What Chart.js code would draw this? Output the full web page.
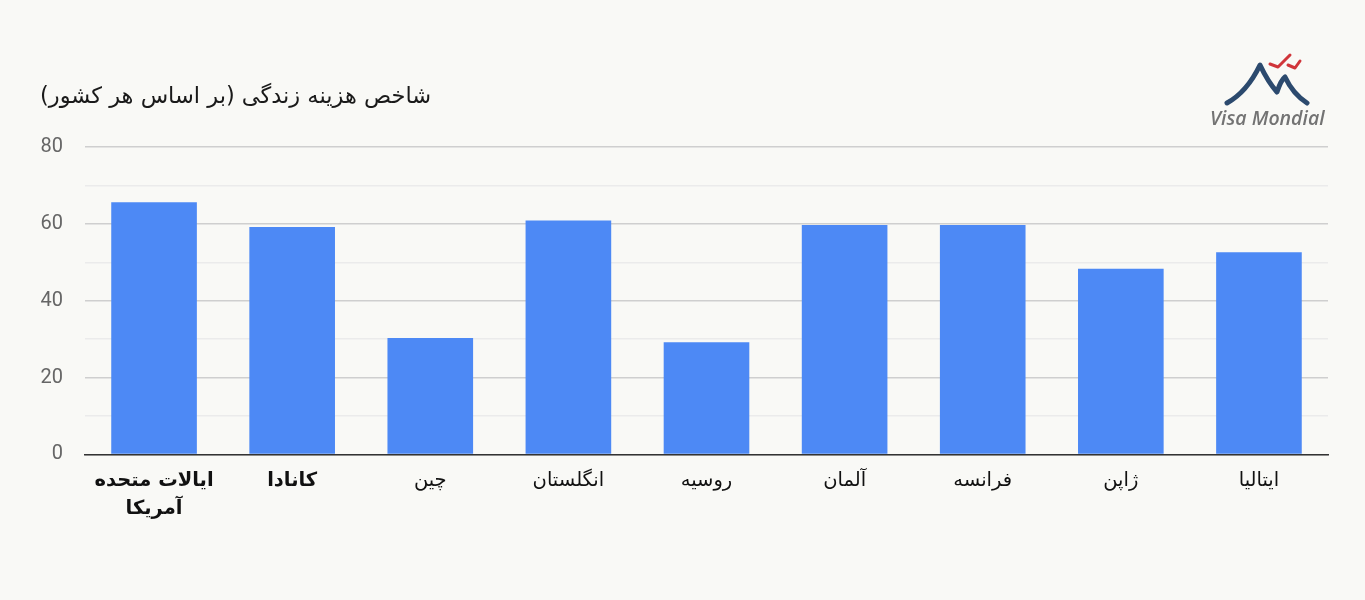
<!DOCTYPE html>
<html lang="fa">
<head>
<meta charset="utf-8">
<title>شاخص هزینه زندگی</title>
<script src="https://cdn.jsdelivr.net/npm/chart.js@4/dist/chart.umd.min.js"></script>
<style>
  html, body { margin: 0; padding: 0; background: #f9f9f6; }
  #wrap { position: relative; width: 1365px; height: 600px; }
  #logo { position: absolute; left: 1205px; top: 50px; }
</style>
</head>
<body>
<div id="wrap">
  <canvas id="grafico" width="1365" height="600" dir="rtl"></canvas>
  <svg id="logo" width="130" height="85" viewBox="0 0 130 85">
    <path d="M22 53 Q42 42 55 15 Q63 32 72 42 Q76 30 80 27 Q88 44 102 53" stroke="#2c4a6e" stroke-width="5" fill="none" stroke-linecap="round" stroke-linejoin="round"/>
    <path d="M65 14 L73 17 L85 5 M83 15 L90 18 L95 11" stroke="#d0353a" stroke-width="3" fill="none" stroke-linecap="round" stroke-linejoin="round"/>
    <text x="5" y="75" font-family="'Open Sans', sans-serif" font-style="italic" font-weight="600" font-size="19.5" fill="#737373">Visa Mondial</text>
  </svg>
</div>
<script>
const paises = [['ایالات متحده', 'آمریکا'], 'کانادا', 'چین', 'انگلستان', 'روسیه', 'آلمان', 'فرانسه', 'ژاپن', 'ایتالیا'];
const indices = [65.6, 59.2, 30.3, 60.9, 29.2, 59.7, 59.7, 48.3, 52.6];
const titulo = 'شاخص هزینه زندگی (بر اساس هر کشور)';
const marcasY = [0, 20, 40, 60, 80];

const ctx = document.getElementById('grafico').getContext('2d');

const grafico = new Chart(ctx, {
    type: 'bar',
    data: {
        labels: paises,
        datasets: [{
            label: titulo,
            backgroundColor: '#4d89f5',
            data: indices,
            barPercentage: 0.62,
            categoryPercentage: 1
        }]
    },
    options: {
        responsive: false,
        animation: false,
        layout: { padding: { top: 84, left: 40, right: 37, bottom: 65 } },
        plugins: {
            legend: { display: false },
            tooltip: { enabled: false },
            title: {
                display: true,
                text: titulo,
                align: 'start',
                color: '#1a1a1a',
                font: { family: "'DejaVu Sans', sans-serif", size: 22.5, weight: 'normal' },
                padding: { top: 0, bottom: 36 }
            }
        },
        scales: {
            x: {
                grid: { display: false, drawTicks: false },
                border: { color: '#333', width: 1.5 },
                ticks: {
                    color: '#111',
                    padding: 12,
                    maxRotation: 0,
                    font: (c) => ({
                        family: "'DejaVu Sans', sans-serif",
                        size: 19.5,
                        weight: c.index < 2 ? 'bold' : 'normal',
                        lineHeight: 1.45
                    })
                }
            },
            y: {
                min: 0,
                max: 80,
                border: { display: false },
                afterFit: (escala) => { escala.width = 45; },
                grid: {
                    drawTicks: false,
                    color: (c) => (marcasY.includes(c.tick.value) ? '#cfcfcf' : '#ebebeb'),
                    lineWidth: 1.5
                },
                ticks: {
                    stepSize: 10,
                    padding: 22,
                    color: '#666',
                    font: { family: 'Roboto, sans-serif', size: 20 },
                    callback: (v) => (marcasY.includes(v) ? v : '')
                }
            }
        }
    }
});
</script>
</body>
</html>
